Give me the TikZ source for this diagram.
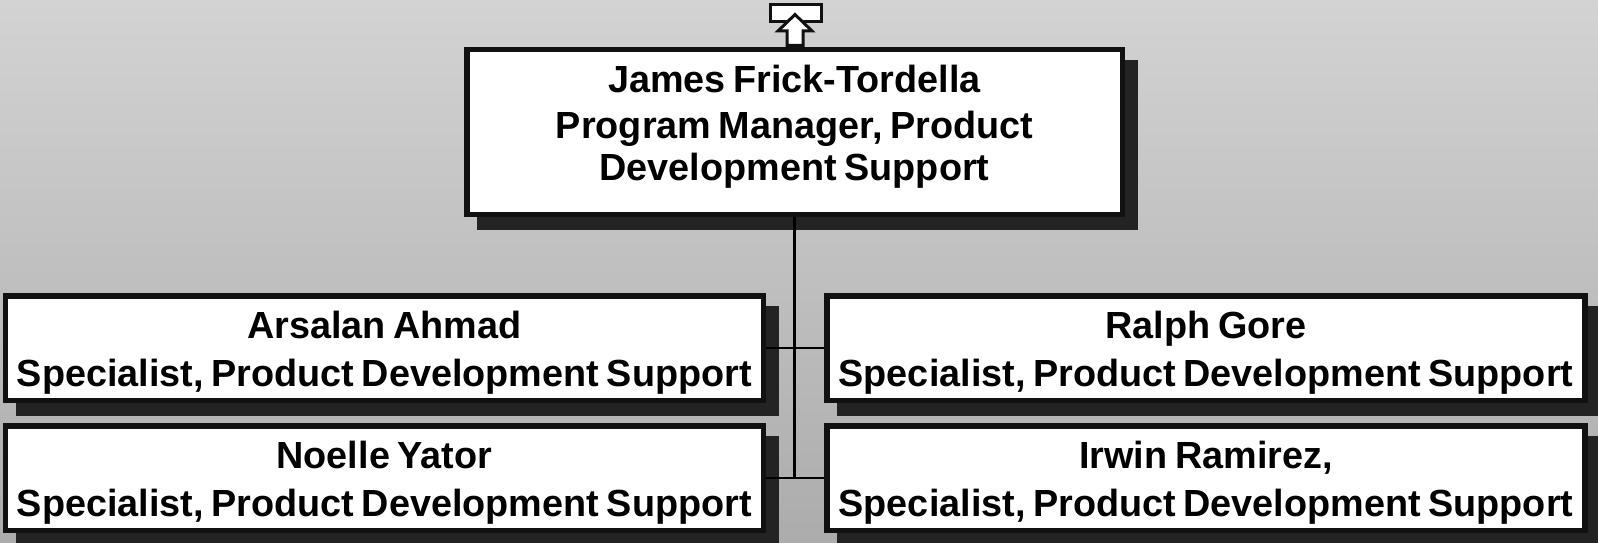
\documentclass[tikz,border=0pt]{standalone}
\usepackage{fontspec}
\setmainfont{Liberation Sans}[WordSpace=0.72]
\usetikzlibrary{shadows}
\definecolor{bgtop}{HTML}{D3D3D3}
\definecolor{bgbot}{HTML}{ACACAC}
\definecolor{shadowc}{HTML}{232323}
\definecolor{edgec}{HTML}{111111}
\begin{document}
\begin{tikzpicture}[x=1pt,y=-1pt,
  box/.style={draw=edgec, line width=5.5pt, fill=white, inner sep=0pt,
    general shadow={fill=shadowc, draw=shadowc, line width=5.5pt,
      shadow xshift=13pt, shadow yshift=-13pt}},
  lowbox/.style={box, minimum width=758pt, minimum height=104.5pt},
  txt/.style={font=\fontsize{37.8}{48}\selectfont\bfseries,
    align=center, inner sep=0pt},
  toptxt/.style={txt, font=\fontsize{37.8}{44}\selectfont\bfseries},
  link/.style={draw=black, line width=2.5pt},
  upbox/.style={draw=edgec, line width=3pt, fill=white, inner sep=0pt,
    minimum width=50.4pt, minimum height=17pt},
  uparrow/.style={draw=edgec, line width=3pt, fill=white, line join=miter}]
\useasboundingbox (0,0) rectangle (1598,543);
\shade[top color=bgtop, bottom color=bgbot] (0,0) rectangle (1598,543);

% boxes
\node[box, minimum width=655.5pt, minimum height=164.5pt] (top) at (794.5,132) {};
\node[lowbox] (a1) at (384.35,348) {};
\node[lowbox] (a2) at (384.35,478) {};
\node[lowbox] (b1) at (1206,348) {};
\node[lowbox] (b2) at (1206,478) {};

% connectors
\coordinate (j2) at (top.south |- a2.east);
\draw[link] (top.south) -- (j2);
\draw[link] (a1.east) -- (b1.west);
\draw[link] (a2.east) -- (b2.west);

% texts
\node[toptxt] (ttop) at (794.5,127) {James Frick-Tordella\\[2pt]Program Manager, Product\\[-2pt]Development Support};
\node[txt] (ta1) at (384.35,353) {Arsalan Ahmad\\Specialist, Product Development Support};
\node[txt] (ta2) at (384.35,483) {Noelle Yator\\Specialist, Product Development Support};
\node[txt] (tb1) at (1206,353) {Ralph Gore\\Specialist, Product Development Support};
\node[txt] (tb2) at (1206,483) {Irwin Ramirez,\\Specialist, Product Development Support};

% up marker
\node[upbox] (up) at (796,13.3) {};
\draw[uparrow] (795,14.5) -- (812,31) -- (803,31) -- (803,45.5) -- (787,45.5) -- (787,31) -- (778,31) -- cycle;
\end{tikzpicture}
\end{document}
